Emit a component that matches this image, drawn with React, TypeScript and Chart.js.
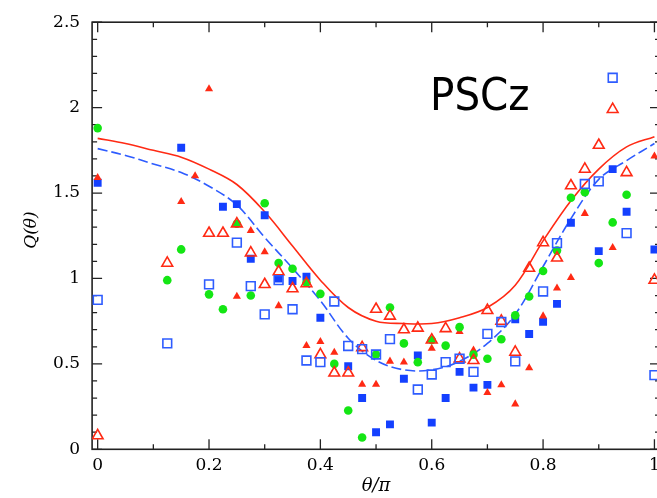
import React, { useEffect, useRef } from "react";
import { Chart, registerables } from "chart.js";

Chart.register(...registerables);

// x positions (θ/π) of the two model curves
const curveX = [0, 0.05, 0.1, 0.15, 0.2, 0.25, 0.3, 0.35, 0.4, 0.45, 0.5, 0.55, 0.6, 0.65, 0.7, 0.75, 0.8, 0.85, 0.9, 0.95, 1.0];
const redCurveY = [1.82, 1.79, 1.75, 1.71, 1.64, 1.55, 1.39, 1.19, 0.99, 0.83, 0.75, 0.736, 0.736, 0.77, 0.83, 0.96, 1.22, 1.455, 1.64, 1.77, 1.83];
const blueCurveY = [1.76, 1.72, 1.67, 1.62, 1.54, 1.43, 1.24, 1.06, 0.87, 0.65, 0.52, 0.465, 0.465, 0.515, 0.62, 0.79, 1.07, 1.35, 1.58, 1.69, 1.79];

const redFilled: [number, number][] = [
  [0, 1.59], [0.15, 1.45], [0.175, 1.6], [0.2, 2.11], [0.25, 0.895], [0.275, 1.28], [0.3, 1.155],
  [0.325, 0.84], [0.375, 0.607], [0.4, 0.63], [0.425, 0.567], [0.475, 0.38], [0.5, 0.38], [0.525, 0.515],
  [0.55, 0.51], [0.6, 0.59], [0.65, 0.688], [0.675, 0.58], [0.7, 0.332], [0.725, 0.377], [0.75, 0.265],
  [0.775, 0.476], [0.8, 0.78], [0.825, 0.943], [0.85, 1.005], [0.875, 1.38], [0.925, 1.18], [1.0, 1.716],
];
const redOpen: [number, number][] = [
  [0, 0.08], [0.125, 1.09], [0.2, 1.265], [0.225, 1.265], [0.25, 1.32], [0.275, 1.15], [0.3, 0.965],
  [0.325, 1.04], [0.35, 0.94], [0.375, 0.97], [0.4, 0.554], [0.425, 0.447], [0.45, 0.447], [0.475, 0.596],
  [0.5, 0.82], [0.525, 0.78], [0.55, 0.7], [0.575, 0.71], [0.6, 0.64], [0.625, 0.707], [0.65, 0.53],
  [0.675, 0.52], [0.7, 0.813], [0.725, 0.75], [0.75, 0.569], [0.775, 1.06], [0.8, 1.21], [0.825, 1.12],
  [0.85, 1.543], [0.875, 1.64], [0.9, 1.78], [0.925, 1.99], [0.95, 1.62], [1.0, 0.99],
];
const blueFilled: [number, number][] = [
  [0, 1.56], [0.15, 1.765], [0.225, 1.42], [0.25, 1.435], [0.275, 1.115], [0.3, 1.37], [0.325, 1.0],
  [0.35, 0.985], [0.375, 1.01], [0.4, 0.77], [0.45, 0.486], [0.475, 0.3], [0.5, 0.1], [0.525, 0.146],
  [0.55, 0.413], [0.575, 0.55], [0.6, 0.156], [0.625, 0.3], [0.65, 0.453], [0.675, 0.361], [0.7, 0.377],
  [0.75, 0.761], [0.775, 0.675], [0.8, 0.746], [0.825, 0.851], [0.85, 1.326], [0.9, 1.16], [0.925, 1.64],
  [0.95, 1.39], [1.0, 1.17],
];
const blueOpen: [number, number][] = [
  [0, 0.875], [0.125, 0.62], [0.2, 0.965], [0.25, 1.21], [0.275, 0.955], [0.3, 0.79], [0.325, 0.99],
  [0.35, 0.82], [0.375, 0.52], [0.4, 0.51], [0.425, 0.865], [0.45, 0.605], [0.475, 0.586], [0.5, 0.555],
  [0.525, 0.645], [0.575, 0.35], [0.6, 0.438], [0.625, 0.51], [0.65, 0.53], [0.675, 0.453], [0.7, 0.676],
  [0.725, 0.745], [0.75, 0.515], [0.8, 0.924], [0.825, 1.207], [0.875, 1.553], [0.9, 1.568], [0.925, 2.175],
  [0.95, 1.265], [1.0, 0.434],
];
const greenDots: [number, number][] = [
  [0, 1.88], [0.125, 0.99], [0.15, 1.17], [0.2, 0.907], [0.225, 0.82], [0.25, 1.32], [0.275, 0.9],
  [0.3, 1.44], [0.325, 1.09], [0.35, 1.057], [0.375, 0.975], [0.4, 0.91], [0.425, 0.5], [0.45, 0.227],
  [0.475, 0.069], [0.5, 0.555], [0.525, 0.83], [0.55, 0.62], [0.575, 0.51], [0.6, 0.64], [0.625, 0.607],
  [0.65, 0.715], [0.675, 0.554], [0.7, 0.53], [0.725, 0.644], [0.75, 0.784], [0.775, 0.894], [0.8, 1.044],
  [0.825, 1.163], [0.85, 1.472], [0.875, 1.505], [0.9, 1.09], [0.925, 1.328], [0.95, 1.49],
];

const xTickValues = [0, 0.2, 0.4, 0.6, 0.8, 1];
const xTickLabels = ["0", "0.2", "0.4", "0.6", "0.8", "1"];
const yTickValues = [0, 0.5, 1, 1.5, 2, 2.5];
const yTickLabels = ["0", "0.5", "1", "1.5", "2", "2.5"];

const RED = "#ff2a14";
const BLUE = "#1440ff";
const BLUE_OPEN = "#2e5cff";
const GREEN = "#14e614";

const toPts = (arr: [number, number][]) => arr.map(([x, y]) => ({ x, y }));

const framePlugin = {
  id: "frame",
  beforeDatasetsDraw(chart: any) {
    const { ctx, chartArea: a, scales } = chart;
    const xs = scales.x;
    const ys = scales.y;
    ctx.save();
    ctx.strokeStyle = "#222";
    ctx.lineWidth = 1.6;
    ctx.strokeRect(a.left, a.top, a.right - a.left, a.bottom - a.top);
    ctx.lineWidth = 1.3;
    ctx.beginPath();
    for (let i = 0; i <= 10; i++) {
      const v = i / 10;
      const px = xs.getPixelForValue(v);
      const len = i % 2 === 0 ? 10 : 5;
      ctx.moveTo(px, a.bottom);
      ctx.lineTo(px, a.bottom - len);
      ctx.moveTo(px, a.top);
      ctx.lineTo(px, a.top + len);
    }
    for (let i = 0; i <= 25; i++) {
      const v = i / 10;
      const py = ys.getPixelForValue(v);
      const len = i % 5 === 0 ? 10 : 5;
      ctx.moveTo(a.left, py);
      ctx.lineTo(a.left + len, py);
      ctx.moveTo(a.right, py);
      ctx.lineTo(a.right - len, py);
    }
    ctx.stroke();
    ctx.restore();
  },
  afterDraw(chart: any) {
    const { ctx, chartArea: a } = chart;
    ctx.save();
    ctx.fillStyle = "#000";
    // x title
    ctx.font = "italic 18px 'DejaVu Serif'";
    ctx.textAlign = "center";
    ctx.textBaseline = "middle";
    ctx.fillText("θ/π", (a.left + a.right) / 2, 486);
    // y title
    ctx.save();
    ctx.translate(32, 230);
    ctx.rotate(-Math.PI / 2);
    ctx.font = "italic 17px 'DejaVu Serif'";
    ctx.fillText("Q(θ)", 0, 0);
    ctx.restore();
    // PSCz label
    ctx.save();
    ctx.translate(430, 110);
    ctx.scale(0.92, 1);
    ctx.font = "44px 'DejaVu Sans'";
    ctx.textAlign = "left";
    ctx.textBaseline = "alphabetic";
    ctx.fillText("PSCz", 0, 0);
    ctx.restore();
    ctx.restore();
  },
};

export default function App() {
  const ref = useRef<HTMLCanvasElement | null>(null);

  useEffect(() => {
    document.body.style.margin = "0";
    const canvas = ref.current;
    if (!canvas) return;
    const chart = new Chart(canvas, {
      type: "scatter",
      data: {
        datasets: [
          {
            label: "green",
            data: toPts(greenDots),
            pointStyle: "circle",
            pointRadius: 4.3,
            backgroundColor: GREEN,
            borderColor: GREEN,
            borderWidth: 0,
            order: 3,
          },
          {
            label: "redFilled",
            data: toPts(redFilled),
            pointStyle: "triangle",
            pointRadius: 4.7,
            backgroundColor: RED,
            borderColor: RED,
            borderWidth: 0,
            order: 4,
          },
          {
            label: "blueFilled",
            data: toPts(blueFilled),
            pointStyle: "rect",
            pointRadius: 5.6,
            backgroundColor: BLUE,
            borderColor: BLUE,
            borderWidth: 0,
            order: 5,
          },
          {
            label: "redOpen",
            data: toPts(redOpen),
            pointStyle: "triangle",
            pointRadius: 6.2,
            backgroundColor: "rgba(0,0,0,0)",
            borderColor: RED,
            borderWidth: 1.6,
            order: 2,
          },
          {
            label: "blueOpen",
            data: toPts(blueOpen),
            pointStyle: "rect",
            pointRadius: 6.2,
            backgroundColor: "rgba(0,0,0,0)",
            borderColor: BLUE_OPEN,
            borderWidth: 1.6,
            order: 1,
          },
          {
            label: "redCurve",
            data: curveX.map((x, i) => ({ x, y: redCurveY[i] })),
            showLine: true,
            borderColor: RED,
            borderWidth: 1.6,
            pointRadius: 0,
            tension: 0.35,
            order: 10,
          },
          {
            label: "blueCurve",
            data: curveX.map((x, i) => ({ x, y: blueCurveY[i] })),
            showLine: true,
            borderColor: BLUE_OPEN,
            borderWidth: 1.6,
            borderDash: [10, 4],
            pointRadius: 0,
            tension: 0.35,
            order: 9,
          },
        ],
      },
      options: {
        animation: false,
        responsive: false,
        devicePixelRatio: 1,
        events: [],
        layout: { padding: { top: 15.7, right: 12, bottom: 0, left: 0 } },
        plugins: { legend: { display: false }, tooltip: { enabled: false } },
        scales: {
          x: {
            type: "linear",
            min: -0.01,
            max: 1.01,
            grid: { display: false, drawTicks: false },
            border: { display: false },
            afterBuildTicks: (s: any) => {
              s.ticks = xTickValues.map((v) => ({ value: v }));
            },
            afterFit: (s: any) => {
              s.height = 48.7;
            },
            ticks: {
              padding: 6,
              color: "#000",
              font: { family: "'DejaVu Serif'", size: 17 },
              callback: (v: any) => {
                const i = xTickValues.indexOf(Number(v));
                return i >= 0 ? xTickLabels[i] : "";
              },
              maxRotation: 0,
              autoSkip: false,
            },
          },
          y: {
            type: "linear",
            min: 0,
            max: 2.5,
            grid: { display: false, drawTicks: false },
            border: { display: false },
            afterBuildTicks: (s: any) => {
              s.ticks = yTickValues.map((v) => ({ value: v }));
            },
            afterFit: (s: any) => {
              s.width = 92.1;
            },
            ticks: {
              padding: 12,
              color: "#000",
              font: { family: "'DejaVu Serif'", size: 17 },
              callback: (v: any) => {
                const i = yTickValues.indexOf(Number(v));
                return i >= 0 ? yTickLabels[i] : "";
              },
              autoSkip: false,
            },
          },
        },
      },
      plugins: [framePlugin],
    } as any);
    return () => chart.destroy();
  }, []);

  return (
    <div style={{ position: "absolute", left: 0, top: 0, width: 657, height: 498, overflow: "hidden", background: "#fff" }}>
      <canvas ref={ref} width={672} height={498} style={{ width: 672, height: 498, display: "block" }} />
    </div>
  );
}
